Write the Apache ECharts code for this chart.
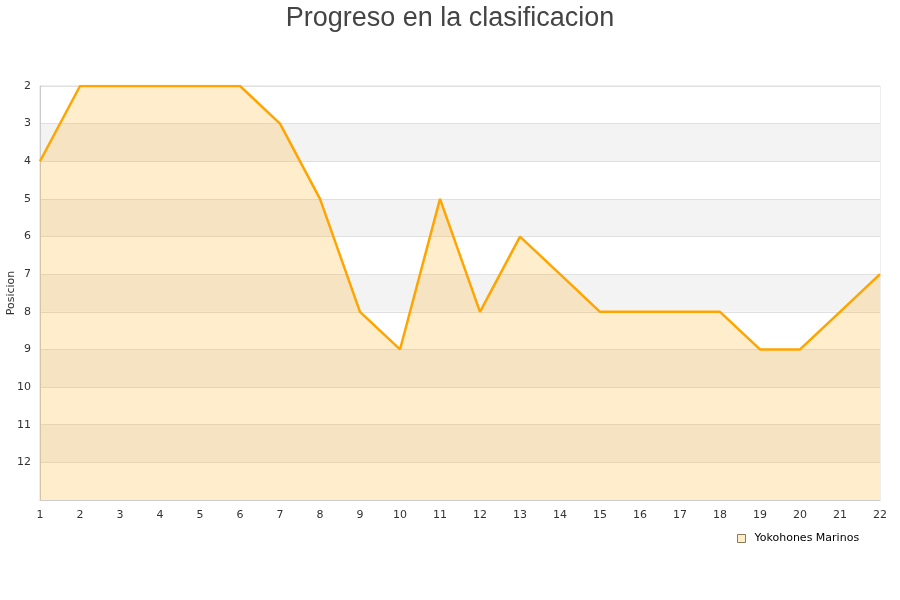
<!DOCTYPE html>
<html>
<head>
<meta charset="utf-8">
<script src="https://cdn.jsdelivr.net/npm/echarts@6/dist/echarts.min.js"></script>
<style>html,body{margin:0;padding:0;background:#fff;}#c{width:900px;height:600px;}</style>
</head>
<body>
<div id="c"></div>
<script>
const jornadas = ['1','2','3','4','5','6','7','8','9','10','11','12','13','14','15','16','17','18','19','20','21','22'];
const posiciones = [4,2,2,2,2,2,3,5,8,9,5,8,6,7,8,8,8,8,9,9,8,7];
const equipo = 'Yokohones Marinos';
const tituloTexto = 'Progreso en la clasificacion';

const chart = echarts.init(document.getElementById('c'), null, {renderer: 'canvas'});
chart.setOption({
  animation: false,
  backgroundColor: '#ffffff',
  title: {
    text: tituloTexto,
    left: 'center',
    top: 0,
    textStyle: {fontFamily: 'Liberation Sans Narrow, Arial, sans-serif', fontSize: 27, fontWeight: 'normal', color: '#444'}
  },
  legend: {
    data: [equipo],
    left: 732,
    top: 528,
    icon: 'rect',
    itemWidth: 8,
    itemHeight: 8,
    itemGap: 5,
    textStyle: {fontFamily: 'DejaVu Sans, sans-serif', fontSize: 11, color: '#000', padding: [0, 0, 0, 4]},
    itemStyle: {color: '#ffedc9', borderColor: '#8a7a5a', borderWidth: 1}
  },
  grid: {left: 40, right: 20, top: 86, bottom: 100, containLabel: false, outerBoundsMode: 'none',
    show: true, borderColor: '#dddddd', borderWidth: 1, backgroundColor: 'transparent'},
  xAxis: {
    type: 'category',
    data: jornadas,
    boundaryGap: false,
    axisLine: {lineStyle: {color: '#cccccc'}},
    axisTick: {show: false},
    axisLabel: {fontFamily: 'DejaVu Sans, sans-serif', fontSize: 11, color: '#333', margin: 10},
    splitLine: {show: false}
  },
  yAxis: {
    type: 'value',
    inverse: true,
    min: 2,
    max: 13,
    interval: 1,
    name: 'Posicion',
    nameLocation: 'middle',
    nameGap: 23,
    nameMoveOverlap: false,
    nameTextStyle: {fontFamily: 'DejaVu Sans, sans-serif', fontSize: 11, color: '#333'},
    axisLine: {show: true, lineStyle: {color: '#cccccc'}},
    axisTick: {show: false},
    axisLabel: {fontFamily: 'DejaVu Sans, sans-serif', fontSize: 11, color: '#333', margin: 9,
      formatter: v => (v === 13 ? '' : String(v))},
    splitLine: {show: true, lineStyle: {color: '#e0e0e0'}},
    splitArea: {show: true, areaStyle: {color: ['#ffffff', '#f3f3f3']}}
  },
  series: [{
    name: equipo,
    type: 'line',
    data: posiciones,
    symbol: 'none',
    lineStyle: {color: '#ffa500', width: 2.5},
    itemStyle: {color: '#ffa500'},
    areaStyle: {color: 'rgba(255,165,0,0.2)', opacity: 1, origin: 'end'}
  }]
});
</script>
</body>
</html>
